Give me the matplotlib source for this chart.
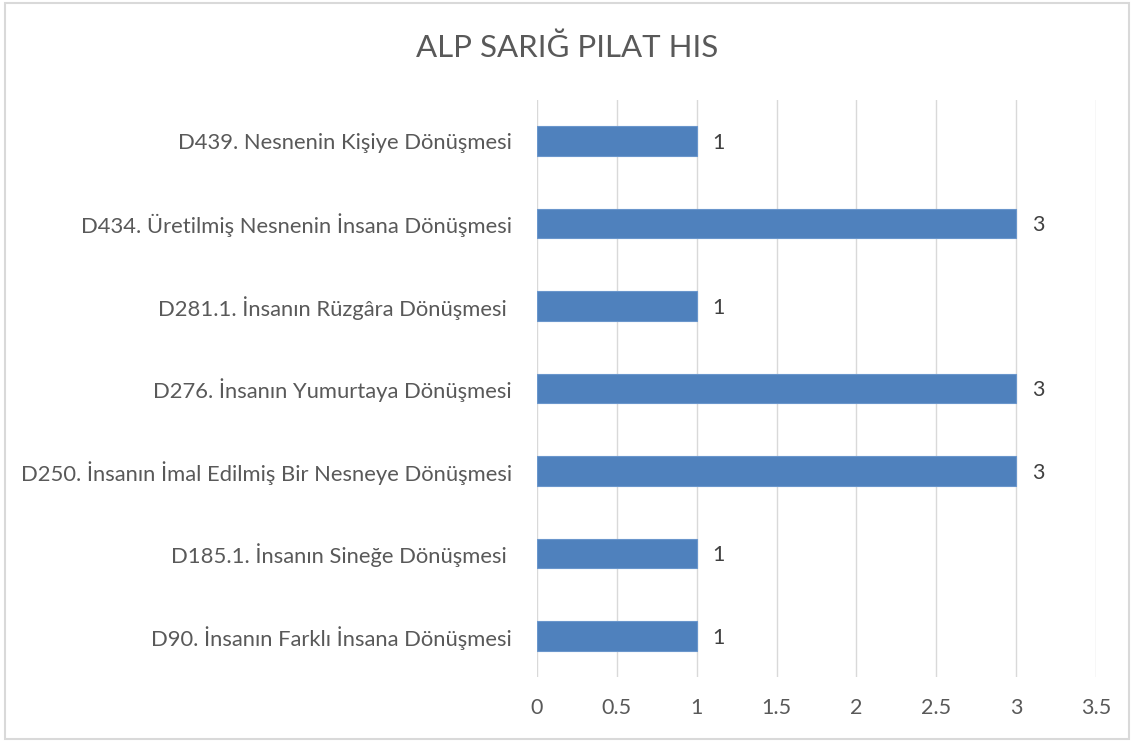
import matplotlib.pyplot as plt
from matplotlib.patches import Rectangle

# categories bottom -> top as drawn
categories = [
    'D90. İnsanın Farklı İnsana Dönüşmesi',
    'D185.1. İnsanın Sineğe Dönüşmesi ',
    'D250. İnsanın İmal Edilmiş Bir Nesneye Dönüşmesi',
    'D276. İnsanın Yumurtaya Dönüşmesi',
    'D281.1. İnsanın Rüzgâra Dönüşmesi ',
    'D434. Üretilmiş Nesnenin İnsana Dönüşmesi',
    'D439. Nesnenin Kişiye Dönüşmesi',
]
values = [1, 1, 3, 3, 1, 3, 1]
xticks = [0, 0.5, 1, 1.5, 2, 2.5, 3, 3.5]
xtick_labels = ['0', '0.5', '1', '1.5', '2', '2.5', '3', '3.5']

plt.rcParams['font.family'] = ['Lato', 'DejaVu Sans']

fig = plt.figure(figsize=(11.34, 7.42), dpi=100)
ax = fig.add_axes([0.4735, 0.0873, 0.493, 0.7783])

ypos = range(len(categories))
ax.barh(ypos, values, height=0.36, color='#4F81BD', edgecolor='#6A96CC', linewidth=0.8, zorder=3)
for y, v in zip(ypos, values):
    ax.text(v + 0.1, y - 0.02, str(v), va='center', ha='left', fontsize=15.5, color='#404040')

ax.set_xlim(0, 3.5)
ax.set_ylim(-0.5, len(categories) - 0.5)
ax.set_xticks(xticks)
ax.set_xticklabels(xtick_labels)
ax.set_yticks(list(ypos))
ax.set_yticklabels(categories)
ax.tick_params(axis='both', length=0, labelsize=15.5, colors='#595959')
ax.tick_params(axis='y', pad=18, labelsize=15.8)
ax.tick_params(axis='x', pad=15)
ax.grid(axis='x', color='#D9D9D9', linewidth=1, zorder=0)
for s in ax.spines.values():
    s.set_visible(False)

fig.text(0.5, 0.936, 'ALP SARIĞ PILAT HIS', ha='center', va='center', fontsize=22.5, color='#595959')

fig.patches.append(Rectangle((0.004, 0.004), 0.992, 0.992, transform=fig.transFigure,
                             fill=False, edgecolor='#D9D9D9', linewidth=1.5))

fig.savefig('out.png', dpi=100, facecolor='white')
